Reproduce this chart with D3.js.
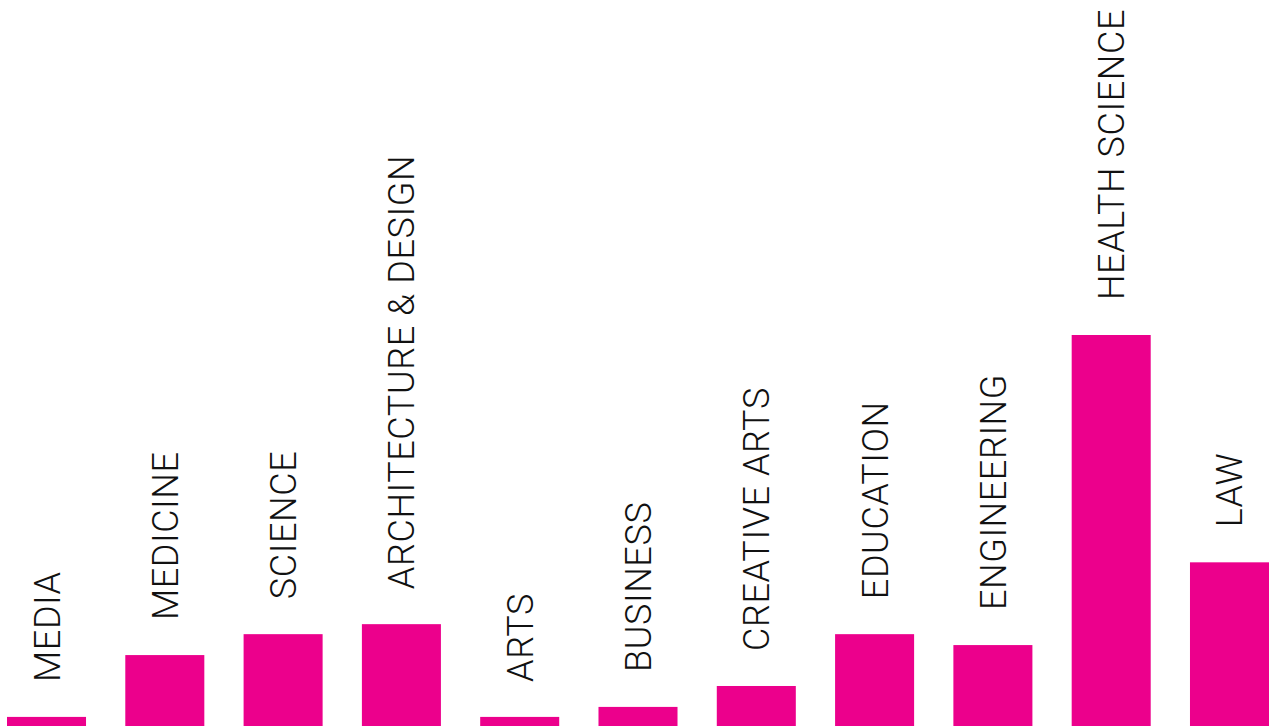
<html>
<head>
<script src="https://cdn.jsdelivr.net/npm/d3@7"></script>
<style>
  body { margin: 0; background: #fff; }
  .label { font-family: Roboto, sans-serif; font-size: 36px; font-weight: 300; letter-spacing: 0.6px; fill: #111; }
</style>
</head>
<body>
<div id="chart"></div>
<script>
const categories = ["MEDIA", "MEDICINE", "SCIENCE", "ARCHITECTURE & DESIGN", "ARTS", "BUSINESS",
                    "CREATIVE ARTS", "EDUCATION", "ENGINEERING", "HEALTH SCIENCE", "LAW"];
const values = [1, 7.8, 10.1, 11.2, 1, 2.1, 4.4, 10.1, 8.9, 43, 18];

const width = 1274, height = 726;
const svg = d3.select("#chart").append("svg")
    .attr("width", width)
    .attr("height", height);

const data = categories.map((c, i) => ({cat: c, val: values[i]}));

let xScale = d3.scaleBand()
    .domain(categories)
    .range([7, 1269])
    .paddingInner(0.332)
    .paddingOuter(0);

let yScale = d3.scaleLinear()
    .domain([0, 43])
    .range([height, 335]);

svg.selectAll("rect.bar").data(data)
   .join("rect")
   .attr("class", "bar")
   .attr("x", d => xScale(d.cat))
   .attr("y", d => yScale(d.val))
   .attr("width", xScale.bandwidth())
   .attr("height", d => height - yScale(d.val))
   .attr("fill", "#ec008c");

// labels sit above each bar, rotated
svg.selectAll("text.label").data(data)
   .join("text")
   .attr("class", "label")
   .attr("transform", d => `translate(${xScale(d.cat) + xScale.bandwidth() / 2 + 13}, ${yScale(d.val) - 35}) rotate(-90)`)
   .attr("text-anchor", "start")
   .text(d => d.cat);
</script>
</body>
</html>
